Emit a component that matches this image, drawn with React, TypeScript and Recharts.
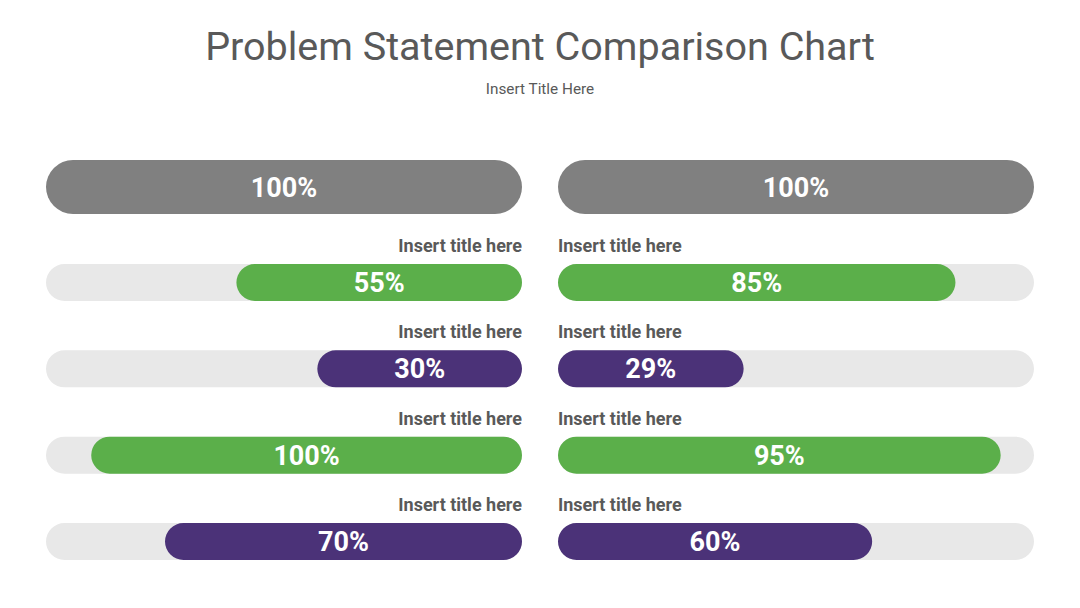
import React from 'react';
import { BarChart, Bar, XAxis, YAxis, LabelList, Cell } from 'recharts';

// Row titles and values
const rowTitles = ['Insert title here', 'Insert title here', 'Insert title here', 'Insert title here'];
const leftLengths = [60, 43, 90.5, 75];
const leftLabels = ['55%', '30%', '100%', '70%'];
const rightLengths = [83.5, 39, 93, 66];
const rightLabels = ['85%', '29%', '95%', '60%'];
const rowColors = ['#5BAF4A', '#4B3278', '#5BAF4A', '#4B3278'];
const headerValue = 100;
const headerLabel = '100%';

const FONT = 'Roboto, "Noto Sans", sans-serif';
const TEXT = '#595959';
const TRACK = '#E8E8E8';
const HEADER = '#808080';

const COL_W = 476;
const ROW_H = 345.3;
const PAD_TOP = 30;
const HEAD_H = 70;

const HeaderBar = ({ reversed }: { reversed: boolean }) => {
    const data = [{ name: 'header', value: headerValue, label: headerLabel }];
    return (
        <BarChart width={COL_W} height={HEAD_H} data={data} layout="vertical" barCategoryGap={0} margin={{ top: 0, right: 0, bottom: 0, left: 0 }}>
            <XAxis type="number" domain={[0, 100]} hide reversed={reversed} />
            <YAxis type="category" dataKey="name" hide />
            <Bar dataKey="value" fill={HEADER} barSize={54} radius={27} isAnimationActive={false}>
                <LabelList dataKey="label" position="center" fill="#fff" fontSize={27} fontWeight={700} fontFamily={FONT} />
            </Bar>
        </BarChart>
    );
};

const RowsChart = ({ lengths, labels, reversed }: { lengths: number[]; labels: string[]; reversed: boolean }) => {
    const data = rowTitles.map((title, i) => ({ name: title, value: lengths[i], label: labels[i] }));

    // judul kecil di atas track, rata kanan (kiri) atau rata kiri (kanan)
    const renderTitle = (props: any) => {
        const { y, index } = props;
        const tx = reversed ? COL_W : 0;
        return (
            <text x={tx} y={y - 12} textAnchor={reversed ? 'end' : 'start'} fill={TEXT} fontSize={18} fontWeight={700} fontFamily={FONT}>
                {rowTitles[index]}
            </text>
        );
    };

    return (
        <BarChart width={COL_W} height={ROW_H + PAD_TOP} data={data} layout="vertical" barCategoryGap={0} margin={{ top: PAD_TOP, right: 0, bottom: 0, left: 0 }}>
            <XAxis type="number" domain={[0, 100]} hide reversed={reversed} />
            <YAxis type="category" dataKey="name" hide />
            <Bar dataKey="value" barSize={37} radius={18.5} background={{ fill: TRACK, radius: 18.5 }} isAnimationActive={false}>
                {data.map((_, i) => (
                    <Cell key={i} fill={rowColors[i]} />
                ))}
                <LabelList dataKey="label" position="center" fill="#fff" fontSize={27} fontWeight={700} fontFamily={FONT} />
                <LabelList dataKey="name" content={renderTitle} />
            </Bar>
        </BarChart>
    );
};

export default function App() {
    return (
        <div style={{ position: 'fixed', left: 0, top: 0, width: 1080, height: 608, background: '#fff', fontFamily: FONT }}>
            <div style={{ position: 'absolute', top: 22, width: '100%', textAlign: 'center', fontSize: 39.5, color: TEXT, lineHeight: '50px' }}>
                Problem Statement Comparison Chart
            </div>
            <div style={{ position: 'absolute', top: 79, width: '100%', textAlign: 'center', fontSize: 15.3, color: TEXT, lineHeight: '20px' }}>
                Insert Title Here
            </div>

            <div style={{ position: 'absolute', left: 46, top: 187 - HEAD_H / 2 }}>
                <HeaderBar reversed />
            </div>
            <div style={{ position: 'absolute', left: 558, top: 187 - HEAD_H / 2 }}>
                <HeaderBar reversed={false} />
            </div>

            <div style={{ position: 'absolute', left: 46, top: 239.3 - PAD_TOP }}>
                <RowsChart lengths={leftLengths} labels={leftLabels} reversed />
            </div>
            <div style={{ position: 'absolute', left: 558, top: 239.3 - PAD_TOP }}>
                <RowsChart lengths={rightLengths} labels={rightLabels} reversed={false} />
            </div>
        </div>
    );
}
